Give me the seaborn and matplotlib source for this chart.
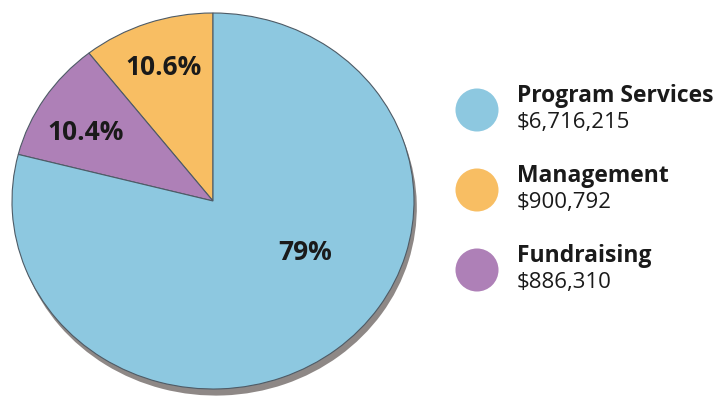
import matplotlib
matplotlib.use("Agg")
import matplotlib.pyplot as plt
import seaborn as sns
import pandas as pd

# Data
categories = ["Management", "Fundraising", "Program Services"]
amounts = [900792, 886310, 6716215]
pct_labels = ["10.6%", "10.4%", "79%"]
colors = ["#F8BE63", "#AE80B7", "#8DC8E0"]

legend_order = ["Program Services", "Management", "Fundraising"]
legend_values = ["$6,716,215", "$900,792", "$886,310"]

sns.set_theme(style="white")
plt.rcParams["font.family"] = ["Open Sans", "DejaVu Sans"]

fig = plt.figure(figsize=(7.2, 4.0), dpi=100)
fig.patch.set_facecolor("white")

W, H = 720.0, 400.0
cx, cy, rx, ry = 213, 201, 201, 188
ax = fig.add_axes([(cx - rx) / W, (H - cy - ry) / H, 2 * rx / W, 2 * ry / H])

# shadow
ax.pie(amounts, startangle=90, counterclock=True, colors=["#8E8886"] * 3,
       center=(0.014, -0.035), radius=1.0,
       wedgeprops=dict(linewidth=0))
wedges, _ = ax.pie(amounts, startangle=90, counterclock=True, colors=colors,
                   radius=1.0,
                   wedgeprops=dict(edgecolor="#4E5B66", linewidth=0.8))
ax.set_aspect("auto")
ax.set_xlim(-1, 1)
ax.set_ylim(-1, 1)
ax.axis("off")

# percent labels (positions in pixels -> axes coords)
label_px = [(164, 67), (86, 133), (305, 253)]
for (px, py), lab in zip(label_px, pct_labels):
    ax.text((px - cx) / rx, (cy - py) / ry, lab, ha="center", va="center",
            fontsize=19, fontweight="bold", color="#1a1a1a")

# legend axes
lax = fig.add_axes([0, 0, 1, 1])
leg_df = pd.DataFrame({"cat": legend_order,
                       "x": [477] * 3,
                       "y": [110, 190, 270]})
pal = dict(zip(categories, colors))
sns.scatterplot(data=leg_df, x="x", y="y", hue="cat", palette=pal, s=960,
                linewidth=0, legend=False, ax=lax)
lax.set_xlim(0, W)
lax.set_ylim(H, 0)
lax.axis("off")
for (name, val, y) in zip(legend_order, legend_values, leg_df["y"]):
    lax.text(517, y - 8, name, ha="left", va="baseline", fontsize=16.5,
             fontweight="bold", color="#1a1a1a")
    lax.text(517, y + 18, val, ha="left", va="baseline", fontsize=16,
             color="#1a1a1a")

fig.savefig("out.png", dpi=100, facecolor="white")
